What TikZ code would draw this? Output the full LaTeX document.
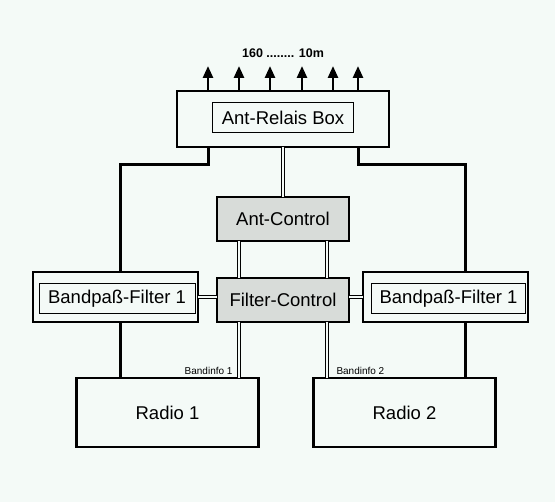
\documentclass[tikz,border=0pt]{standalone}
\usepackage{fontspec}
\setmainfont{Liberation Sans}
\usepackage{xcolor}
\usepackage{tikz}
\usetikzlibrary{arrows.meta,positioning,calc}
\definecolor{paper}{HTML}{F4FAF7}
\definecolor{panel}{HTML}{D8DCD9}
\definecolor{ink}{HTML}{000000}
\tikzset{
  unitbox/.style={
    rectangle, draw=ink, fill=#1, line width=2.7pt,
    outer sep=0pt, inner sep=0pt, align=center,
    font=\fontsize{18.5}{21}\selectfont
  },
  unitbox/.default=paper,
  ctrlbox/.style={
    unitbox=panel, minimum width=132pt, minimum height=44pt
  },
  labelbox/.style={
    rectangle, draw=ink, line width=1pt, fill=paper,
    outer sep=0pt, inner sep=0pt,
    font=\fontsize{18.5}{21}\selectfont
  },
  feed/.style={line width=3pt, draw=ink},
  ctrlline/.style={draw=ink, line width=1pt, double=paper, double distance=1.6pt},
  antarrow/.style={line width=2.6pt, -{Triangle[length=12pt,width=10pt]}},
  infolabel/.style={font=\fontsize{10}{12}\selectfont, inner sep=1pt},
}
\begin{document}
\begin{tikzpicture}[x=1pt, y=-1pt]

% canvas
\useasboundingbox[fill=paper] (0,0) rectangle (555,502);

% Antennen-Relais oben
\node[unitbox, minimum width=212pt, minimum height=56pt] (relais) at (283,119) {};
\node[labelbox, minimum width=141pt, minimum height=30pt] (relaislabel) at ([yshift=1pt]relais.center) {Ant-Relais Box};
\node[above=33pt of relais, inner sep=0pt, font=\fontsize{12.5}{14}\selectfont\bfseries] (bands) {160 ........ 10m};

% Steuerung in der Mitte
\node[ctrlbox, below=50pt of relais] (antctrl) {Ant-Control};
\node[ctrlbox, below=37pt of antctrl] (filterctrl) {Filter-Control};

% Bandpass-Filter links und rechts
\node[unitbox, minimum width=165pt, minimum height=50pt, left=19pt of filterctrl, yshift=3pt] (bpleft) {};
\node[labelbox, minimum width=156pt, minimum height=30pt] (bpleftlabel) at ([xshift=1.5pt, yshift=-2pt]bpleft.center) {Bandpaß-Filter 1};
\node[unitbox, minimum width=165pt, minimum height=50pt, right=14pt of filterctrl, yshift=3pt] (bpright) {};
\node[labelbox, minimum width=154pt, minimum height=30pt] (bprightlabel) at ([xshift=3pt, yshift=-2pt]bpright.center) {Bandpaß-Filter 1};

% Radios unten
\node[unitbox, minimum width=182pt, minimum height=69pt, below=56pt of filterctrl, xshift=-115.5pt] (radio1) {Radio 1};
\node[unitbox, minimum width=182pt, minimum height=69pt, below=56pt of filterctrl, xshift=121.5pt] (radio2) {Radio 2};

% Antennenausgaenge
\foreach \dx [count=\i] in {-75,-44,-13,19,50,75} {
  \coordinate (ant\i) at ([xshift=\dx pt, yshift=25pt]relais.north);
  \draw[antarrow] ([xshift=\dx pt]relais.north) -- (ant\i);
}

% HF-Leitungen
\draw[feed] ([xshift=-75pt]relais.south) -- ++(0pt,-18pt) -| ([xshift=5pt]bpleft.north);
\draw[feed] ([xshift=75pt]relais.south) -- ++(0pt,-18pt) -| ([xshift=19.5pt]bpright.north);
\draw[feed] ([xshift=5pt]bpleft.south) -- ([xshift=5pt]bpleft.south |- radio1.north);
\draw[feed] ([xshift=19.5pt]bpright.south) -- ([xshift=19.5pt]bpright.south |- radio2.north);

% Steuerleitungen
\draw[ctrlline] (relais.south) -- (antctrl.north);
\draw[ctrlline] ([xshift=-44pt]antctrl.south) -- ([xshift=-44pt]filterctrl.north);
\draw[ctrlline] ([xshift=44pt]antctrl.south) -- ([xshift=44pt]filterctrl.north);
\draw[ctrlline] (bpleft.east) -- (bpleft.east -| filterctrl.west);
\draw[ctrlline] (bpright.west) -- (bpright.west -| filterctrl.east);
\draw[ctrlline] ([xshift=-44pt]filterctrl.south) -- ([xshift=-44pt]filterctrl.south |- radio1.north)
  node[pos=0.875, left=5pt, infolabel] {Bandinfo 1};
\draw[ctrlline] ([xshift=44pt]filterctrl.south) -- ([xshift=44pt]filterctrl.south |- radio2.north)
  node[pos=0.875, right=8pt, infolabel] {Bandinfo 2};

\end{tikzpicture}
\end{document}
